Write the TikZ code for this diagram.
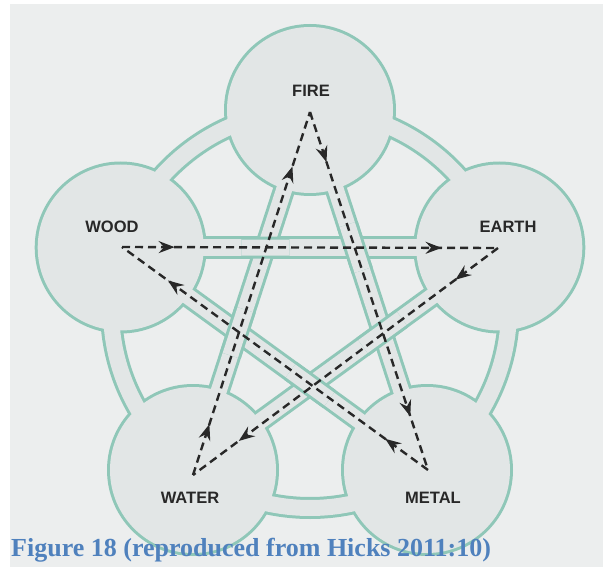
\documentclass[tikz,border=0pt]{standalone}
\usepackage{fontspec}
\setmainfont{Liberation Serif}
\setsansfont{Liberation Sans}
\usetikzlibrary{arrows.meta,decorations.markings,calc}
\definecolor{tealline}{RGB}{143,199,184}
\definecolor{bandfill}{RGB}{226,230,230}
\definecolor{pagebg}{RGB}{236,238,238}
\definecolor{ink}{RGB}{40,40,40}
\definecolor{capblue}{RGB}{79,129,189}
\tikzset{
  bandout/.style={draw=tealline, line width=22pt, line cap=butt},
  bandin/.style={draw=bandfill, line width=16pt, line cap=butt},
  ftip/.tip={Stealth[length=16pt,width=12pt,inset=5.5pt]},
  flow/.style={draw=ink, line width=2.4pt, dash pattern=on 8pt off 5pt,
    postaction={decorate},
    decoration={markings,
      mark=at position 0.14 with {\arrow{ftip}},
      mark=at position 0.85 with {\arrow{ftip}}}},
  lbl/.style={font=\sffamily\bfseries\fontsize{16.5}{17}\selectfont, text=ink, inner sep=0pt},
}
\begin{document}
\begin{tikzpicture}[x=1pt,y=-1pt]
\useasboundingbox (0,0) rectangle (603,567);
\fill[white] (0,0) rectangle (603,567);
\fill[pagebg] (10,4) rectangle (603,567);

% pentagon centres
\coordinate (C) at (310,309);
\coordinate (Fi) at (310,110);
\coordinate (Wo) at (120.7,247.5);
\coordinate (Ea) at (499.3,247.5);
\coordinate (Wa) at (193,470);
\coordinate (Me) at (427,470);

% outlines of ring and circles
\draw[tealline, line width=22pt] (C) circle[radius=199pt];
\foreach \p in {Fi,Wo,Ea,Wa,Me} \fill[tealline] (\p) circle[radius=86pt];
\draw[bandfill, line width=16pt] (C) circle[radius=199pt];

% star bands
\foreach \a/\b in {Wo/Ea,Fi/Wa,Fi/Me,Wo/Me,Ea/Wa} \draw[bandout] (\a) -- (\b);
\foreach \a/\b in {Wo/Ea,Fi/Wa,Fi/Me,Wo/Me,Ea/Wa} \draw[bandin] (\a) -- (\b);

% crossings (woven)
\coordinate (X1) at (intersection of Wo--Ea and Fi--Wa);
\coordinate (X2) at (intersection of Wo--Ea and Fi--Me);
\coordinate (X3) at (intersection of Fi--Me and Ea--Wa);
\coordinate (X4) at (intersection of Ea--Wa and Wo--Me);
\coordinate (X5) at (intersection of Wo--Me and Fi--Wa);
\foreach \x/\a/\b in {X1/Wo/Ea, X2/Fi/Me, X3/Ea/Wa, X4/Wo/Me, X5/Fi/Wa}{
  \draw[bandout] ($(\x)!24pt!(\a)$) -- ($(\x)!24pt!(\b)$);
  \draw[bandin] ($(\x)!24pt!(\a)$) -- ($(\x)!24pt!(\b)$);
}

% circle interiors
\foreach \p in {Fi,Wo,Ea,Wa,Me} \fill[bandfill] (\p) circle[radius=83pt];

% arrow end points
\coordinate (aFi) at (310,112);
\coordinate (aWo) at (122,247);
\coordinate (aEa) at (498,248);
\coordinate (aWa) at (193,475);
\coordinate (aMe) at (428,470);

\draw[flow] (aWo) -- (aEa);
\draw[flow] (aEa) -- (aWa);
\draw[flow] (aWa) -- (aFi);
\draw[flow] (aFi) -- (aMe);
\draw[flow] (aMe) -- (aWo);

% labels
\node[lbl] (lfire) at (311,91) {FIRE};
\node[lbl] (lwood) at (112,227) {WOOD};
\node[lbl] (learth) at (508,227) {EARTH};
\node[lbl] (lwater) at (190,498) {WATER};
\node[lbl] (lmetal) at (433,498) {METAL};

\node[anchor=base west, inner sep=0pt, text=capblue,
      font=\bfseries\fontsize{26}{26}\selectfont] (cap) at (11,556)
      {Figure 18 (reproduced from Hicks 2011:10)};
\end{tikzpicture}
\end{document}
